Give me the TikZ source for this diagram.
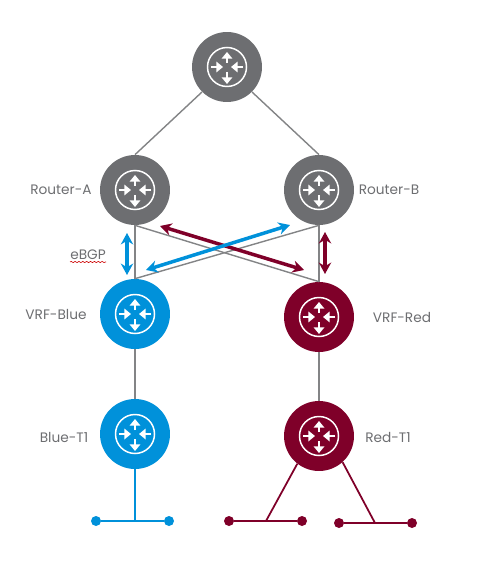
\documentclass[tikz,border=0pt]{standalone}
\usepackage{fontspec}
\setmainfont{Poppins}
\usetikzlibrary{arrows.meta,decorations.pathmorphing}
\definecolor{rgray}{HTML}{6D6E71}
\definecolor{rblue}{HTML}{0091DA}
\definecolor{rred}{HTML}{7F0029}
\begin{document}
\begin{tikzpicture}[x=0.02cm, y=-0.02cm,
  router/.style={circle, minimum size=1.4cm, inner sep=0pt, fill=#1},
  link/.style={draw=rgray!85, line width=0.8pt},
  stem/.style={draw=#1, line width=1pt},
  leaf/.style={circle, fill=#1, minimum size=0.2cm, inner sep=0pt},
  peer/.style={{Stealth[length=6.5pt,width=7pt]}-{Stealth[length=6.5pt,width=7pt]}, draw=#1, line width=2pt},
  lbl/.style={text=rgray, font=\fontsize{7.8}{10}\selectfont},
  routericon/.pic={
    \draw[white, line width=0.85pt] (0,0) circle (19.5);
    \foreach \sx/\sy/\ex/\ey in {0/-4/0/-15, 0/5/0/17, -16/0/-4/0, 16/0/4/0}
      \draw[white, line width=1.5pt, -{Triangle[length=3.8pt,width=6pt]}] (\sx,\sy) -- (\ex,\ey);
  }]
\useasboundingbox (0,0) rectangle (484,574);
% routers
\node[router=rgray] (top) at (227,67) {};
\node[router=rgray] (routerA) at (135,190) {};
\node[router=rgray] (routerB) at (319,190) {};
\node[router=rblue] (vrfBlue) at (135,314) {};
\node[router=rred] (vrfRed) at (319,317) {};
\node[router=rblue] (blueT) at (135,434) {};
\node[router=rred] (redT) at (319,436) {};
\foreach \n in {top,routerA,routerB,vrfBlue,vrfRed,blueT,redT}
  \pic at (\n) {routericon};
% gray links
\draw[link] (top.225) -- (routerA.north);
\draw[link] (top.315) -- (routerB.north);
\draw[link] (routerA.south) -- (vrfBlue.north);
\draw[link] (routerA.south) -- (vrfRed.north);
\draw[link] (routerB.south) -- (vrfRed.north);
\draw[link] (routerB.south) -- (vrfBlue.north);
\draw[link] (vrfBlue.south) -- (blueT.north);
\draw[link] (vrfRed.south) -- (redT.north);
% eBGP arrows
\coordinate (blueV1) at (127,233);
\coordinate (blueV2) at (127,275);
\coordinate (redV1) at (325,232);
\coordinate (redV2) at (325,274);
\coordinate (blueD1) at (146,270);
\coordinate (blueD2) at (290,225);
\coordinate (redD1) at (160,226);
\coordinate (redD2) at (304,270);
\draw[peer=rred] (redD1) -- (redD2);
\draw[peer=rblue] (blueD1) -- (blueD2);
\draw[peer=rblue] (blueV1) -- (blueV2);
\draw[peer=rred] (redV1) -- (redV2);
% segments at the bottom
\node[leaf=rblue] (blueL) at (96,521) {};
\node[leaf=rblue] (blueR) at (169,521) {};
\node[leaf=rred] (redAL) at (229,521) {};
\node[leaf=rred] (redAR) at (302,521) {};
\node[leaf=rred] (redBL) at (339,523) {};
\node[leaf=rred] (redBR) at (412,523) {};
\coordinate (blueTap) at (135,521);
\coordinate (redATap) at (266,521);
\coordinate (redBTap) at (375,523);
\draw[stem=rblue] (blueL) -- (blueR);
\draw[stem=rblue] (blueT.south) -- (blueTap);
\draw[stem=rred] (redAL) -- (redAR);
\draw[stem=rred] (redT.232) -- (redATap);
\draw[stem=rred] (redBL) -- (redBR);
\draw[stem=rred] (redT.-48) -- (redBTap);
% labels
\node[lbl] (labelA) at (61,190) {Router-A};
\node[lbl] (labelB) at (389,190) {Router-B};
\node[lbl] (labelBGP) at (88,255) {eBGP};
\draw[red!80!black, line width=0.35pt, decorate, decoration={snake, amplitude=0.35pt, segment length=2.2pt}]
  (70,262) -- (106,262);
\node[lbl] (labelBlue) at (56,314) {VRF-Blue};
\node[lbl] (labelRed) at (402,317) {VRF-Red};
\node[lbl] (labelBlueT) at (64,437) {Blue-T1};
\node[lbl] (labelRedT) at (388,437) {Red-T1};
\end{tikzpicture}
\end{document}
